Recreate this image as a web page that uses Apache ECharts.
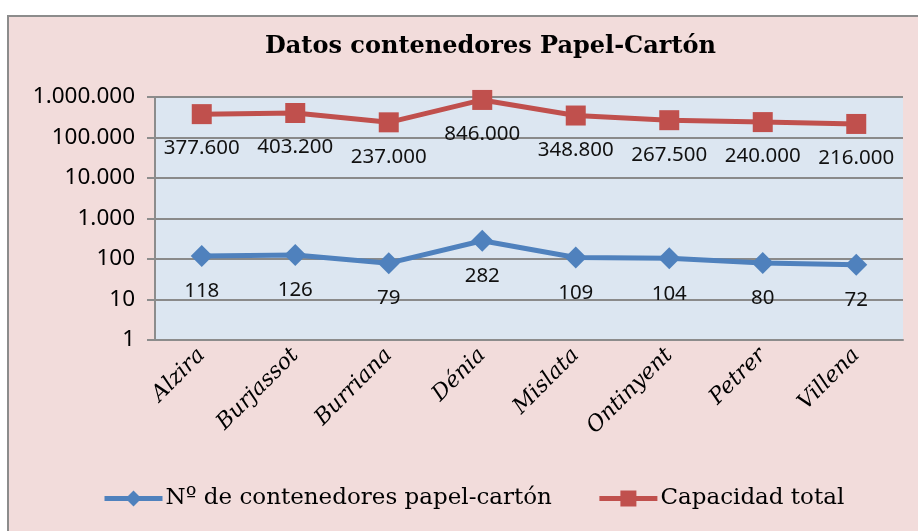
<!DOCTYPE html>
<html>
<head>
<meta charset="utf-8">
<script src="https://cdn.jsdelivr.net/npm/echarts@6/dist/echarts.min.js"></script>
<style>
  html, body { margin: 0; padding: 0; background: #fff; }
  #chart { width: 918px; height: 531px; }
</style>
</head>
<body>
<div id="chart"></div>
<script>
// datos
var ciudades = ['Alzira', 'Burjassot', 'Burriana', 'Dénia', 'Mislata', 'Ontinyent', 'Petrer', 'Villena'];
var contenedores = [118, 126, 79, 282, 109, 104, 80, 72];
var capacidad = [377600, 403200, 237000, 846000, 348800, 267500, 240000, 216000];

function puntos(v) {
  return String(Math.round(v)).replace(/\B(?=(\d{3})+(?!\d))/g, '.');
}

var labelNum = {
  show: true,
  position: 'bottom',
  distance: 14,
  fontFamily: 'Noto Sans',
  fontSize: 20.5,
  color: '#111',
  formatter: function (p) { return puntos(p.value); }
};

var chart = echarts.init(document.getElementById('chart'));
chart.setOption({
  animation: false,
  backgroundColor: '#fff',
  graphic: [{
    type: 'rect', z: -10, silent: true,
    shape: { x: 8, y: 16, width: 930, height: 540 },
    style: { fill: '#f2dcdb', stroke: '#8c8c8c', lineWidth: 2 }
  }],
  title: {
    text: 'Datos contenedores Papel-Cartón',
    left: 260, top: 30,
    textStyle: { fontFamily: 'DejaVu Serif', fontWeight: 'bold', fontSize: 24, color: '#000' }
  },
  legend: {
    left: 102, top: 487, padding: 0,
    itemWidth: 58, itemHeight: 20, itemGap: 45,
    textStyle: { fontFamily: 'DejaVu Serif', fontSize: 23, color: '#000', padding: [0, 0, 0, -2] },
    lineStyle: { width: 5 },
    data: ['Nº de contenedores papel-cartón', 'Capacidad total']
  },
  grid: { left: 155, top: 97, right: 15, bottom: 191, show: true, backgroundColor: '#dce6f1', borderWidth: 0 },
  xAxis: {
    type: 'category',
    data: ciudades,
    boundaryGap: true,
    axisLine: { lineStyle: { color: '#8c8c8c', width: 2 } },
    axisTick: { length: 8, lineStyle: { color: '#8c8c8c', width: 2 } },
    axisLabel: {
      rotate: 45, margin: 12, interval: 0,
      fontFamily: 'DejaVu Serif', fontStyle: 'italic', fontSize: 22, color: '#000'
    }
  },
  yAxis: {
    type: 'log', logBase: 10, min: 1, max: 1000000,
    axisLine: { show: true, lineStyle: { color: '#8c8c8c', width: 2 } },
    axisTick: { show: true, length: 8, lineStyle: { color: '#8c8c8c', width: 2 } },
    splitLine: { lineStyle: { color: '#8a8a8a', width: 2 } },
    axisLabel: {
      margin: 20, fontFamily: 'Noto Sans', fontSize: 22.5, color: '#000',
      formatter: puntos
    }
  },
  series: [{
    name: 'Nº de contenedores papel-cartón',
    type: 'line',
    data: contenedores,
    symbol: 'diamond', symbolSize: 22,
    lineStyle: { color: '#4f81bd', width: 5 },
    itemStyle: { color: '#4f81bd' },
    label: labelNum
  }, {
    name: 'Capacidad total',
    type: 'line',
    data: capacidad,
    symbol: 'rect', symbolSize: 20,
    lineStyle: { color: '#c0504d', width: 5 },
    itemStyle: { color: '#c0504d' },
    label: labelNum
  }]
});
</script>
</body>
</html>
